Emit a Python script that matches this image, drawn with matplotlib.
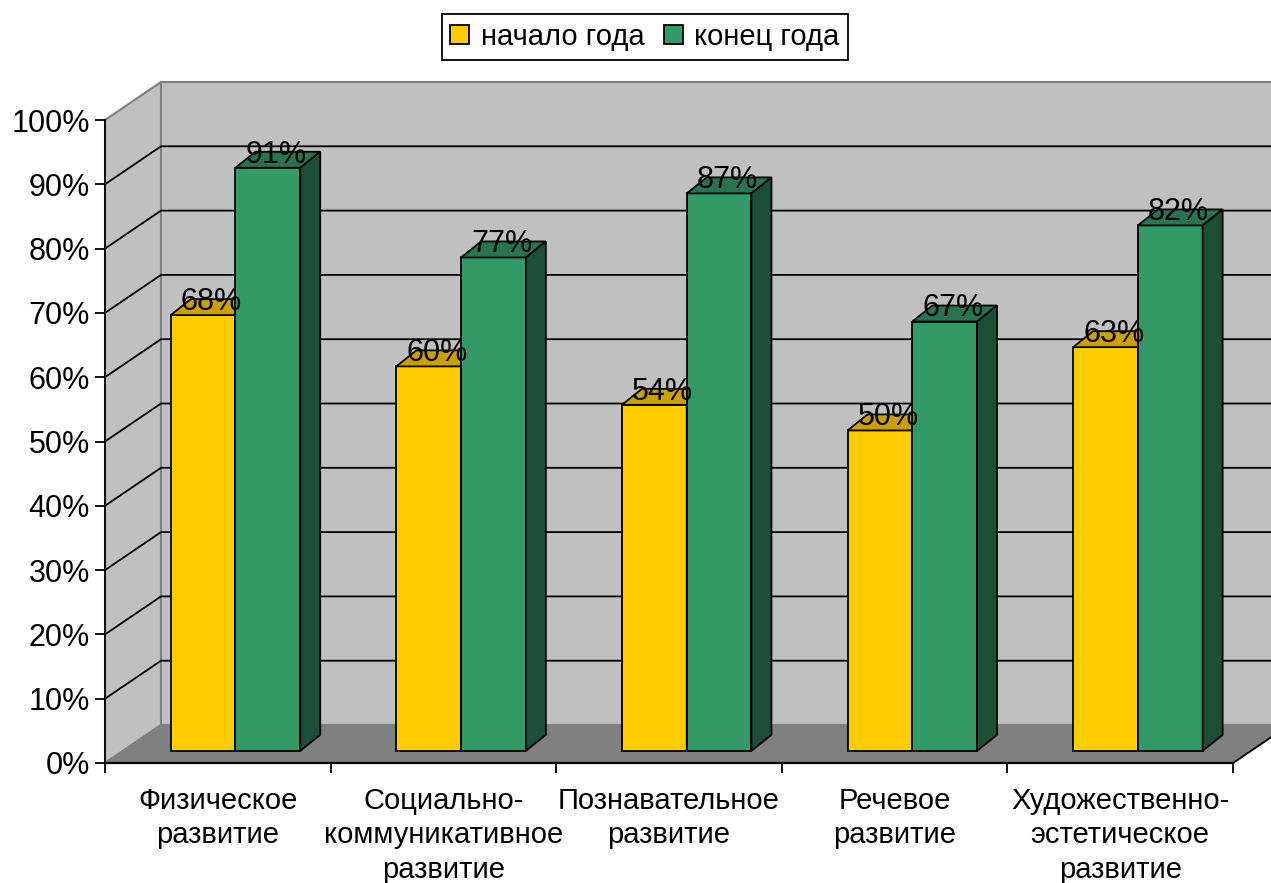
import numpy as np
import matplotlib
matplotlib.use('Agg')
import matplotlib.pyplot as plt
from matplotlib.patches import Patch, Polygon

plt.rcParams['font.family'] = ['Liberation Sans', 'DejaVu Sans']

categories = ['Физическое\nразвитие', 'Социально-\nкоммуникативное\nразвитие',
              'Познавательное\nразвитие', 'Речевое\nразвитие',
              'Художественно-\nэстетическое\nразвитие']
start_year = [68, 60, 54, 50, 63]
end_year = [91, 77, 87, 67, 82]
series_names = ['начало года', 'конец года']
y_ticks = list(range(0, 101, 10))

# fake 3D: how far one unit of depth shifts things, in data units
DX = 56 / 225.6
DY = 38 / 6.43
BAR_W = 0.287
BAR_START = 0.212
D_FRONT = 0.32
BAR_DX = 20 / 225.6
BAR_DY = 16 / 6.43
BAR_SCALE = 0.9965  # bars sit a bit further back so they look slightly shorter
LW = 1.3


def proj(x, y, d):
    return (x + d * DX, y + d * DY)


def poly(ax, pts, color, z, edge='black', lw=LW):
    ax.add_patch(Polygon(pts, closed=True, facecolor=color, edgecolor=edge,
                         linewidth=lw, zorder=z, clip_on=False, joinstyle='miter'))


def bar3d(ax, x, h, front, top, side, z):
    x2 = x + BAR_W
    top_y = h * BAR_SCALE
    x0, y0 = proj(x, 0, D_FRONT)
    x1, y1 = proj(x2, top_y, D_FRONT)
    poly(ax, [(x0, y0), (x1, y0), (x1, y1), (x0, y1)], front, z)
    poly(ax, [(x0, y1), (x1, y1), (x1 + BAR_DX, y1 + BAR_DY), (x0 + BAR_DX, y1 + BAR_DY)], top, z)
    poly(ax, [(x1, y0), (x1 + BAR_DX, y0 + BAR_DY), (x1 + BAR_DX, y1 + BAR_DY), (x1, y1)], side, z)
    ax.annotate(f'{h}%', xy=((x0 + x1) / 2, y1), xytext=(6, 9.5),
                textcoords='offset points', ha='center', va='center',
                fontsize=22, color='black', zorder=20, annotation_clip=False)


fig = plt.figure(figsize=(12.71, 8.83), dpi=100)
ax = fig.add_axes([105 / 1271, 120 / 883, 1128 / 1271, 643 / 883])
ax.set_xlim(0, 5)
ax.set_ylim(0, 100)
ax.patch.set_visible(False)

# walls and floor
right = 5.3
poly(ax, [proj(0, 0, 0), proj(0, 0, 1), proj(0, 100, 1), proj(0, 100, 0)], '#C0C0C0', 1, edge='#808080', lw=1.5)
poly(ax, [proj(0, 0, 1), proj(right, 0, 1), proj(right, 100, 1), proj(0, 100, 1)], '#C0C0C0', 1, edge='#808080', lw=1.5)
poly(ax, [proj(0, 0, 0), proj(5, 0, 0), proj(5, 0, 1), proj(0, 0, 1)], '#808080', 2, edge='#808080')

# gridlines go across the side wall and the back wall
for t in y_ticks[1:-1]:
    ax.plot(*zip(proj(0, t, 0), proj(0, t, 1), proj(right, t, 1)), color='black', lw=LW,
            zorder=3, clip_on=False)
ax.plot(*zip(proj(5, 0, 0), proj(5, 0, 1)), color='black', lw=LW, zorder=3, clip_on=False)

for i in range(len(categories)):
    bar3d(ax, i + BAR_START, start_year[i], '#FFCC00', '#C9A000', '#806600', 5 + i)
    bar3d(ax, i + BAR_START + BAR_W, end_year[i], '#339966', '#2A7350', '#1C4F35', 5 + i)

ax.set_yticks(y_ticks)
ax.set_yticklabels([f'{t}%' for t in y_ticks], fontsize=22)
ax.set_xticks(range(6))
ax.set_xticklabels([])
ax.set_xticks(np.arange(5) + 0.5, categories, minor=True, fontsize=21, linespacing=1.3)
ax.tick_params(axis='x', which='minor', length=0, pad=17)
ax.tick_params(axis='x', which='major', length=7, width=LW)
ax.tick_params(axis='y', length=7, width=LW, pad=4)
ax.spines['top'].set_visible(False)
ax.spines['right'].set_visible(False)
ax.spines['left'].set_linewidth(LW)
ax.spines['left'].set_zorder(4)
ax.spines['bottom'].set_linewidth(1.6)
ax.spines['bottom'].set_zorder(4)

handles = [Patch(facecolor='#FFCC00', edgecolor='black', linewidth=LW, label=series_names[0]),
           Patch(facecolor='#339966', edgecolor='black', linewidth=LW, label=series_names[1])]
leg = fig.legend(handles=handles, ncol=2, loc='center', bbox_to_anchor=(645 / 1271, 1 - 37 / 883),
                 fontsize=21, frameon=True, fancybox=False, edgecolor='black', framealpha=1,
                 handlelength=0.65, handleheight=0.65, handletextpad=0.4, columnspacing=0.65,
                 borderpad=0.3, borderaxespad=0)
leg.get_frame().set_linewidth(LW)

fig.savefig('out.png', dpi=100)
